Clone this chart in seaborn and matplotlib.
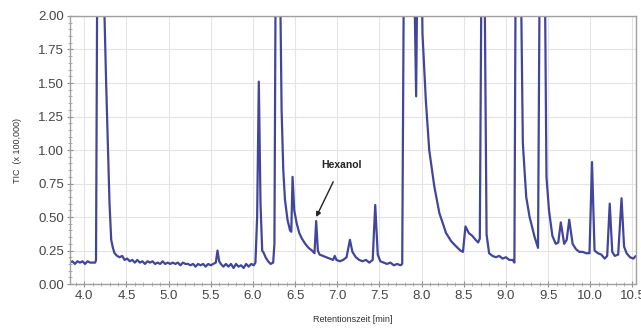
import matplotlib
matplotlib.use("Agg")
import matplotlib.pyplot as plt
from matplotlib.ticker import MultipleLocator, FormatStrFormatter
import seaborn as sns

# retention time (min) and TIC signal (x 100,000);
# off-scale peaks are given as 2.4 (clipped by the axis)
time_min = [
    3.83, 3.86, 3.89, 3.92, 3.95, 3.98, 4.01, 4.04, 4.07, 4.10, 4.13, 4.14,
    4.155, 4.225, 4.26, 4.28, 4.30, 4.32, 4.34, 4.36, 4.39, 4.42, 4.45, 4.48,
    4.51, 4.54, 4.57, 4.60, 4.63, 4.66, 4.69, 4.72, 4.75, 4.78, 4.81, 4.84,
    4.87, 4.90, 4.93, 4.96, 4.99, 5.02, 5.05, 5.08, 5.11, 5.14, 5.17, 5.20,
    5.23, 5.26, 5.29, 5.32, 5.35, 5.38, 5.41, 5.44, 5.47, 5.50, 5.53, 5.56,
    5.58, 5.60, 5.62, 5.65, 5.68, 5.71, 5.74, 5.77, 5.80, 5.83, 5.86, 5.89,
    5.92, 5.95, 5.98, 6.01, 6.03, 6.05, 6.07, 6.09, 6.11, 6.13, 6.15, 6.18,
    6.21, 6.24, 6.255, 6.27, 6.32, 6.34, 6.36, 6.38, 6.41, 6.44, 6.455, 6.47,
    6.49, 6.52, 6.55, 6.58, 6.62, 6.66, 6.70, 6.73, 6.75, 6.77, 6.79, 6.83,
    6.87, 6.91, 6.95, 6.97, 6.99, 7.03, 7.07, 7.11, 7.15, 7.18, 7.22, 7.26,
    7.30, 7.34, 7.38, 7.42, 7.45, 7.48, 7.51, 7.55, 7.59, 7.63, 7.67, 7.71,
    7.75, 7.77, 7.79, 7.91, 7.935, 7.95, 8.00, 8.01, 8.05, 8.09, 8.15, 8.21,
    8.29, 8.35, 8.41, 8.46, 8.49, 8.52, 8.56, 8.60, 8.64, 8.67, 8.69, 8.71,
    8.745, 8.77, 8.80, 8.84, 8.88, 8.92, 8.96, 9.00, 9.04, 9.08, 9.10, 9.115,
    9.175, 9.20, 9.24, 9.28, 9.34, 9.38, 9.40, 9.46, 9.48, 9.51, 9.55, 9.59,
    9.62, 9.65, 9.69, 9.72, 9.75, 9.79, 9.83, 9.87, 9.91, 9.95, 9.99, 10.02,
    10.05, 10.09, 10.13, 10.17, 10.20, 10.23, 10.26, 10.29, 10.33, 10.37, 10.40, 10.43,
    10.47, 10.51, 10.54,
]
tic = [
    0.16, 0.17, 0.15, 0.17, 0.16, 0.17, 0.15, 0.17, 0.16, 0.16, 0.16, 0.18,
    2.40, 2.40, 1.50, 1.05, 0.60, 0.33, 0.27, 0.23, 0.21, 0.20, 0.21, 0.18,
    0.19, 0.17, 0.18, 0.16, 0.18, 0.16, 0.17, 0.15, 0.17, 0.16, 0.17, 0.15,
    0.16, 0.15, 0.17, 0.15, 0.16, 0.15, 0.16, 0.15, 0.16, 0.14, 0.16, 0.15,
    0.15, 0.14, 0.15, 0.13, 0.15, 0.14, 0.15, 0.13, 0.15, 0.14, 0.15, 0.16,
    0.25, 0.17, 0.15, 0.13, 0.15, 0.13, 0.15, 0.12, 0.15, 0.13, 0.14, 0.12,
    0.15, 0.13, 0.15, 0.14, 0.16, 0.50, 1.51, 0.60, 0.25, 0.23, 0.20, 0.17,
    0.15, 0.16, 0.30, 2.40, 2.40, 1.30, 0.85, 0.63, 0.48, 0.40, 0.39, 0.80,
    0.55, 0.45, 0.38, 0.34, 0.30, 0.27, 0.25, 0.23, 0.47, 0.25, 0.22, 0.21,
    0.20, 0.19, 0.18, 0.21, 0.18, 0.17, 0.18, 0.20, 0.33, 0.24, 0.20, 0.18,
    0.17, 0.18, 0.16, 0.18, 0.59, 0.22, 0.17, 0.16, 0.15, 0.16, 0.14, 0.15,
    0.14, 0.15, 2.40, 2.40, 1.40, 2.40, 2.40, 1.87, 1.37, 1.00, 0.73, 0.53,
    0.38, 0.32, 0.28, 0.25, 0.24, 0.43, 0.38, 0.36, 0.33, 0.31, 0.34, 2.40,
    2.40, 0.37, 0.23, 0.21, 0.20, 0.21, 0.19, 0.20, 0.18, 0.18, 0.16, 2.40,
    2.40, 1.05, 0.65, 0.50, 0.35, 0.27, 2.40, 2.40, 0.80, 0.55, 0.36, 0.30,
    0.31, 0.46, 0.30, 0.33, 0.48, 0.30, 0.26, 0.24, 0.24, 0.23, 0.23, 0.91,
    0.25, 0.23, 0.22, 0.19, 0.21, 0.60, 0.24, 0.21, 0.22, 0.64, 0.28, 0.23,
    0.20, 0.19, 0.21,
]

label_name = "Hexanol"
label_peak = (6.75, 0.50)
label_text = (7.05, 0.89)

sns.set_theme(style="whitegrid")
plt.rcParams["font.family"] = ["Liberation Sans", "DejaVu Sans"]

fig = plt.figure(figsize=(6.41, 3.33), dpi=100)
ax = fig.add_axes([0.109, 0.147, 0.883, 0.805])

sns.lineplot(x=time_min, y=tic, ax=ax, color="#42469a", linewidth=1.6,
             estimator=None, sort=False)

ax.set_xlim(3.83, 10.54)
ax.set_ylim(0, 2.0)
ax.xaxis.set_major_locator(MultipleLocator(0.5))
ax.xaxis.set_minor_locator(MultipleLocator(0.1))
ax.yaxis.set_major_locator(MultipleLocator(0.25))
ax.yaxis.set_minor_locator(MultipleLocator(0.05))
ax.xaxis.set_major_formatter(FormatStrFormatter("%.1f"))
ax.yaxis.set_major_formatter(FormatStrFormatter("%.2f"))

ax.grid(True, which="major", color="#e4e4e8", linewidth=0.8)
ax.set_facecolor("white")
for s in ax.spines.values():
    s.set_color("#a0a0a0")
    s.set_linewidth(1.0)

ax.tick_params(axis="both", which="major", direction="inout", length=4, width=0.8,
               color="#909090", labelsize=9.5, labelcolor="#454545", pad=2)
ax.tick_params(axis="both", which="minor", direction="inout", length=2.5, width=0.6,
               color="#a0a0a0")
ax.tick_params(bottom=True, left=True, which="both")

ax.set_xlabel("Retentionszeit [min]", fontsize=6.5, color="#303030", labelpad=10)
ax.set_ylabel("TIC  (x 100,000)", fontsize=6.5, color="#303030", labelpad=12)

ax.annotate(label_name, xy=label_peak, xytext=label_text, fontsize=7.5,
            fontweight="bold", color="#222222", ha="center", va="center",
            arrowprops=dict(arrowstyle="-|>", color="#222222", lw=1.0,
                            shrinkA=7, shrinkB=0, mutation_scale=7))

fig.savefig("out.png", dpi=100)
